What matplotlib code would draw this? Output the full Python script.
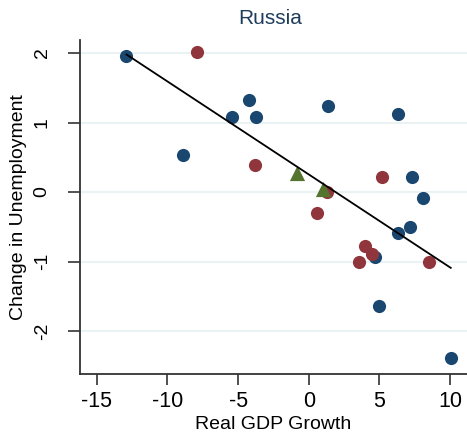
import numpy as np
import matplotlib.pyplot as plt

plt.rcParams['font.family'] = ['Liberation Sans', 'DejaVu Sans']

# Real GDP growth vs change in unemployment, Russia
blue_x = [-12.9, -8.9, -5.4, -4.2, -3.7, 1.35, 6.3, 7.3, 8.1, 7.2, 6.3, 4.7, 5.0, 10.05]
blue_y = [1.96, 0.53, 1.08, 1.32, 1.08, 1.24, 1.12, 0.22, -0.09, -0.50, -0.59, -0.94, -1.64, -2.39]

red_x = [-7.9, -3.8, 0.6, 1.3, 5.2, 4.0, 4.5, 3.55, 8.5]
red_y = [2.01, 0.39, -0.30, 0.0, 0.22, -0.78, -0.89, -1.01, -1.01]

green_x = [-0.8, 1.0]
green_y = [0.27, 0.04]

xticks = [-15, -10, -5, 0, 5, 10]
yticks = [-2, -1, 0, 1, 2]

fig = plt.figure(figsize=(4.67, 4.33), dpi=100)
ax = fig.add_axes([0.171, 0.136, 0.829, 0.772])

# fitted line over all points
all_x = np.array(blue_x + red_x + green_x)
all_y = np.array(blue_y + red_y + green_y)
b, a = np.polyfit(all_x, all_y, 1)
xs = np.array([all_x.min(), all_x.max()])

for t in yticks:
    ax.axhline(t, color='#eaf2f3', lw=1.5, zorder=0)

ax.scatter(blue_x, blue_y, s=90, color='#1a476f', zorder=3, linewidths=0)
ax.scatter(red_x, red_y, s=90, color='#90353b', zorder=3, linewidths=0)
ax.scatter(green_x, green_y, s=120, marker='^', color='#55752f', zorder=3, linewidths=0)
ax.plot(xs, a + b * xs, color='black', lw=1.3, zorder=4)

ax.set_xlim(-16.2, 11.2)
ax.set_ylim(-2.62, 2.19)
ax.set_xticks(xticks)
ax.set_yticks(yticks)
ax.set_xticklabels([str(t) for t in xticks], fontsize=15.5)
ax.set_yticklabels([str(t) for t in yticks], fontsize=14, rotation=90, va='center')
ax.tick_params(direction='out', width=1.2, color='#333333')
ax.tick_params(axis='x', length=8, pad=4)
ax.tick_params(axis='y', length=9, pad=12)

for s in ['top', 'right']:
    ax.spines[s].set_visible(False)
for s in ['left', 'bottom']:
    ax.spines[s].set_color('#333333')
    ax.spines[s].set_linewidth(1.3)

ax.set_xlabel('Real GDP Growth', fontsize=14, labelpad=3)
ax.set_ylabel('Change in Unemployment', fontsize=14, labelpad=5)
fig.text(0.578, 0.957, 'Russia', ha='center', va='center', fontsize=15, color='#1e3d5c')

fig.savefig('out.png', dpi=100)
